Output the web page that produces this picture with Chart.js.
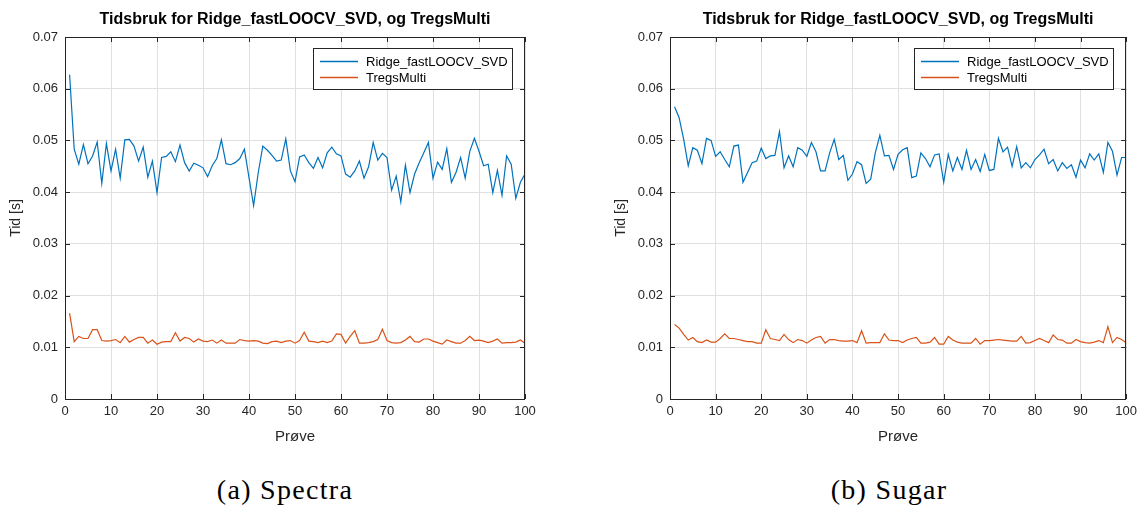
<!DOCTYPE html>
<html>
<head>
<meta charset="utf-8">
<script src="https://cdn.jsdelivr.net/npm/chart.js@4/dist/chart.umd.min.js"></script>
<style>
  html, body { margin: 0; padding: 0; background: #fff; overflow: hidden; width: 1142px; height: 507px; }
  .wrap { position: absolute; top: 0; height: 460px; }
  .cap { position: absolute; top: 474px; width: 300px; text-align: center; font-family: "Liberation Serif", "DejaVu Serif", serif; font-size: 28px; letter-spacing: 1.3px; color: #000; }
</style>
</head>
<body>
<div class="wrap" style="left:0px;width:560px;"><canvas id="c1" width="560" height="460"></canvas></div>
<div class="wrap" style="left:605px;width:537px;"><canvas id="c2" width="537" height="460"></canvas></div>
<div class="cap" style="left:135px;">(a) Spectra</div>
<div class="cap" style="left:739px;">(b) Sugar</div>
<script>
const samples = [1,2,3,4,5,6,7,8,9,10,11,12,13,14,15,16,17,18,19,20,21,22,23,24,25,26,27,28,29,30,31,32,33,34,35,36,37,38,39,40,41,42,43,44,45,46,47,48,49,50,51,52,53,54,55,56,57,58,59,60,61,62,63,64,65,66,67,68,69,70,71,72,73,74,75,76,77,78,79,80,81,82,83,84,85,86,87,88,89,90,91,92,93,94,95,96,97,98,99,100];

const spectraRidge = [0.0627,0.0483,0.0454,0.0492,0.0455,0.0470,0.0497,0.0417,0.0494,0.0441,
0.0483,0.0427,0.0501,0.0502,0.0489,0.0460,0.0487,0.0429,0.0460,0.0399,
0.0467,0.0469,0.0478,0.0459,0.0491,0.0457,0.0441,0.0456,0.0452,0.0447,
0.0430,0.0451,0.0465,0.0501,0.0455,0.0453,0.0457,0.0465,0.0483,0.0428,
0.0374,0.0437,0.0489,0.0481,0.0471,0.0460,0.0462,0.0503,0.0441,0.0420,
0.0468,0.0472,0.0457,0.0446,0.0467,0.0447,0.0476,0.0487,0.0474,0.0470,
0.0435,0.0429,0.0441,0.0460,0.0427,0.0449,0.0496,0.0462,0.0475,0.0467,
0.0404,0.0431,0.0381,0.0452,0.0399,0.0435,0.0457,0.0476,0.0496,0.0427,
0.0458,0.0444,0.0484,0.0419,0.0438,0.0467,0.0427,0.0479,0.0504,0.0479,
0.0451,0.0454,0.0399,0.0442,0.0394,0.0470,0.0454,0.0388,0.0419,0.0435];

const spectraTregs = [0.0166,0.0111,0.0121,0.0117,0.0117,0.0134,0.0134,0.0113,0.0112,0.0113,
0.0115,0.0109,0.0121,0.0110,0.0115,0.0119,0.0119,0.0108,0.0114,0.0106,
0.0110,0.0111,0.0111,0.0128,0.0112,0.0119,0.0117,0.0110,0.0116,0.0112,
0.0111,0.0114,0.0108,0.0114,0.0108,0.0108,0.0108,0.0115,0.0113,0.0112,
0.0113,0.0112,0.0108,0.0107,0.0111,0.0112,0.0109,0.0112,0.0113,0.0108,
0.0113,0.0129,0.0112,0.0111,0.0109,0.0112,0.0109,0.0112,0.0126,0.0125,
0.0108,0.0121,0.0132,0.0108,0.0108,0.0109,0.0111,0.0115,0.0135,0.0113,
0.0109,0.0108,0.0109,0.0114,0.0121,0.0111,0.0110,0.0116,0.0116,0.0112,
0.0109,0.0106,0.0114,0.0111,0.0108,0.0108,0.0113,0.0121,0.0113,0.0114,
0.0112,0.0109,0.0112,0.0116,0.0108,0.0109,0.0109,0.0110,0.0114,0.0108];

const sugarRidge = [0.0565,0.0544,0.0502,0.0451,0.0486,0.0481,0.0455,0.0504,0.0500,0.0469,
0.0478,0.0463,0.0449,0.0489,0.0491,0.0419,0.0438,0.0457,0.0460,0.0485,
0.0465,0.0470,0.0471,0.0517,0.0447,0.0470,0.0449,0.0486,0.0481,0.0469,
0.0496,0.0478,0.0441,0.0441,0.0476,0.0502,0.0463,0.0471,0.0423,0.0435,
0.0459,0.0453,0.0417,0.0425,0.0476,0.0510,0.0470,0.0471,0.0444,0.0473,
0.0482,0.0486,0.0428,0.0431,0.0476,0.0465,0.0449,0.0472,0.0474,0.0419,
0.0473,0.0441,0.0467,0.0444,0.0481,0.0444,0.0463,0.0440,0.0473,0.0442,
0.0444,0.0504,0.0478,0.0487,0.0450,0.0488,0.0447,0.0457,0.0447,0.0463,
0.0472,0.0483,0.0455,0.0463,0.0441,0.0457,0.0446,0.0453,0.0429,0.0462,
0.0447,0.0474,0.0462,0.0474,0.0438,0.0496,0.0479,0.0433,0.0467,0.0467];

const sugarTregs = [0.0144,0.0137,0.0125,0.0114,0.0119,0.0111,0.0109,0.0114,0.0110,0.0110,
0.0117,0.0126,0.0117,0.0117,0.0115,0.0113,0.0111,0.0111,0.0108,0.0108,
0.0134,0.0117,0.0115,0.0113,0.0125,0.0115,0.0109,0.0115,0.0113,0.0108,
0.0114,0.0119,0.0121,0.0108,0.0115,0.0115,0.0113,0.0112,0.0112,0.0113,
0.0109,0.0132,0.0108,0.0109,0.0109,0.0109,0.0126,0.0114,0.0113,0.0113,
0.0109,0.0114,0.0117,0.0119,0.0108,0.0108,0.0110,0.0119,0.0106,0.0106,
0.0121,0.0114,0.0110,0.0108,0.0108,0.0108,0.0117,0.0106,0.0113,0.0113,
0.0114,0.0115,0.0114,0.0113,0.0112,0.0112,0.0121,0.0108,0.0109,0.0113,
0.0117,0.0113,0.0109,0.0124,0.0115,0.0114,0.0108,0.0108,0.0115,0.0111,
0.0109,0.0108,0.0110,0.0113,0.0109,0.0140,0.0109,0.0119,0.0115,0.0109];

const seriesNames = ["Ridge_fastLOOCV_SVD", "TregsMulti"];
const seriesColors = ["#0072BD", "#D95319"];
const chartTitle = "Tidsbruk for Ridge_fastLOOCV_SVD, og TregsMulti";
const xTitle = "Prøve";
const yTitle = "Tid [s]";

const FONT = '"Liberation Sans", Arial, Helvetica, sans-serif';
const AXIS = "#262626";

const decorPlugin = {
  id: "decor",
  afterDraw(chart) {
    const {ctx, chartArea: a, scales} = chart;
    ctx.save();
    ctx.strokeStyle = AXIS;
    ctx.lineWidth = 1;
    ctx.strokeRect(Math.round(a.left) + 0.5, Math.round(a.top) + 0.5, Math.round(a.right - a.left) - 1, Math.round(a.bottom - a.top));
    const L = 5;
    ctx.beginPath();
    scales.x.ticks.forEach(t => {
      const px = Math.round(scales.x.getPixelForValue(t.value)) + 0.5;
      ctx.moveTo(px, a.bottom); ctx.lineTo(px, a.bottom - L);
      ctx.moveTo(px, a.top); ctx.lineTo(px, a.top + L);
    });
    scales.y.ticks.forEach(t => {
      const py = Math.round(scales.y.getPixelForValue(t.value)) + 0.5;
      ctx.moveTo(a.left, py); ctx.lineTo(a.left + L, py);
      ctx.moveTo(a.right, py); ctx.lineTo(a.right - L, py);
    });
    ctx.stroke();
    ctx.fillStyle = "#000";
    ctx.font = "bold 16px " + FONT;
    ctx.textAlign = "center";
    ctx.textBaseline = "middle";
    ctx.fillText(chartTitle, (a.left + a.right) / 2, 20);
    const bw = 199, bh = 41;
    const bx = Math.round(a.right) - 13 - bw, by = Math.round(a.top) + 11;
    ctx.fillStyle = "#fff";
    ctx.fillRect(bx, by, bw, bh);
    ctx.strokeStyle = "#262626";
    ctx.lineWidth = 1;
    ctx.strokeRect(bx + 0.5, by + 0.5, bw, bh);
    ctx.font = "13px " + FONT;
    ctx.textAlign = "left";
    seriesNames.forEach((name, i) => {
      const yy = by + 13 + i * 16;
      ctx.strokeStyle = seriesColors[i];
      ctx.lineWidth = 1.3;
      ctx.beginPath();
      ctx.moveTo(bx + 7, yy + 0.5); ctx.lineTo(bx + 45, yy + 0.5);
      ctx.stroke();
      ctx.fillStyle = "#000";
      ctx.fillText(name, bx + 53, yy + 1);
    });
    ctx.restore();
  }
};

function makeChart(id, ridge, tregs, padRight) {
  const mk = (vals) => samples.map((s, i) => ({x: s, y: vals[i]}));
  return new Chart(document.getElementById(id), {
    type: "line",
    data: {
      datasets: [
        {label: seriesNames[0], data: mk(ridge), borderColor: seriesColors[0], borderWidth: 1.2, pointRadius: 0, tension: 0, fill: false},
        {label: seriesNames[1], data: mk(tregs), borderColor: seriesColors[1], borderWidth: 1.2, pointRadius: 0, tension: 0, fill: false}
      ]
    },
    options: {
      responsive: false,
      animation: false,
      layout: {padding: {top: 37, left: 0, right: padRight, bottom: 0}},
      plugins: {legend: {display: false}, title: {display: false}, tooltip: {enabled: false}},
      scales: {
        x: {
          type: "linear", min: 0, max: 100,
          grid: {color: "#e0e0e0", drawTicks: false},
          border: {display: false},
          ticks: {stepSize: 10, padding: 5, color: AXIS, font: {family: FONT, size: 13}, maxRotation: 0},
          title: {display: true, text: xTitle, color: AXIS, font: {family: FONT, size: 15}, padding: {top: 0, bottom: 14}},
          afterFit: (s) => { s.height = 61; }
        },
        y: {
          min: 0, max: 0.07,
          grid: {color: "#e0e0e0", drawTicks: false},
          border: {display: false},
          ticks: {stepSize: 0.01, padding: 7, color: AXIS, font: {family: FONT, size: 13},
            callback: (v) => String(+(+v).toFixed(2))},
          title: {display: true, text: yTitle, color: AXIS, font: {family: FONT, size: 14}, padding: {top: 8, bottom: 0}},
          afterFit: (s) => { s.width = 65; }
        }
      }
    },
    plugins: [decorPlugin]
  });
}

makeChart("c1", spectraRidge, spectraTregs, 35);
makeChart("c2", sugarRidge, sugarTregs, 12);
</script>
</body>
</html>
